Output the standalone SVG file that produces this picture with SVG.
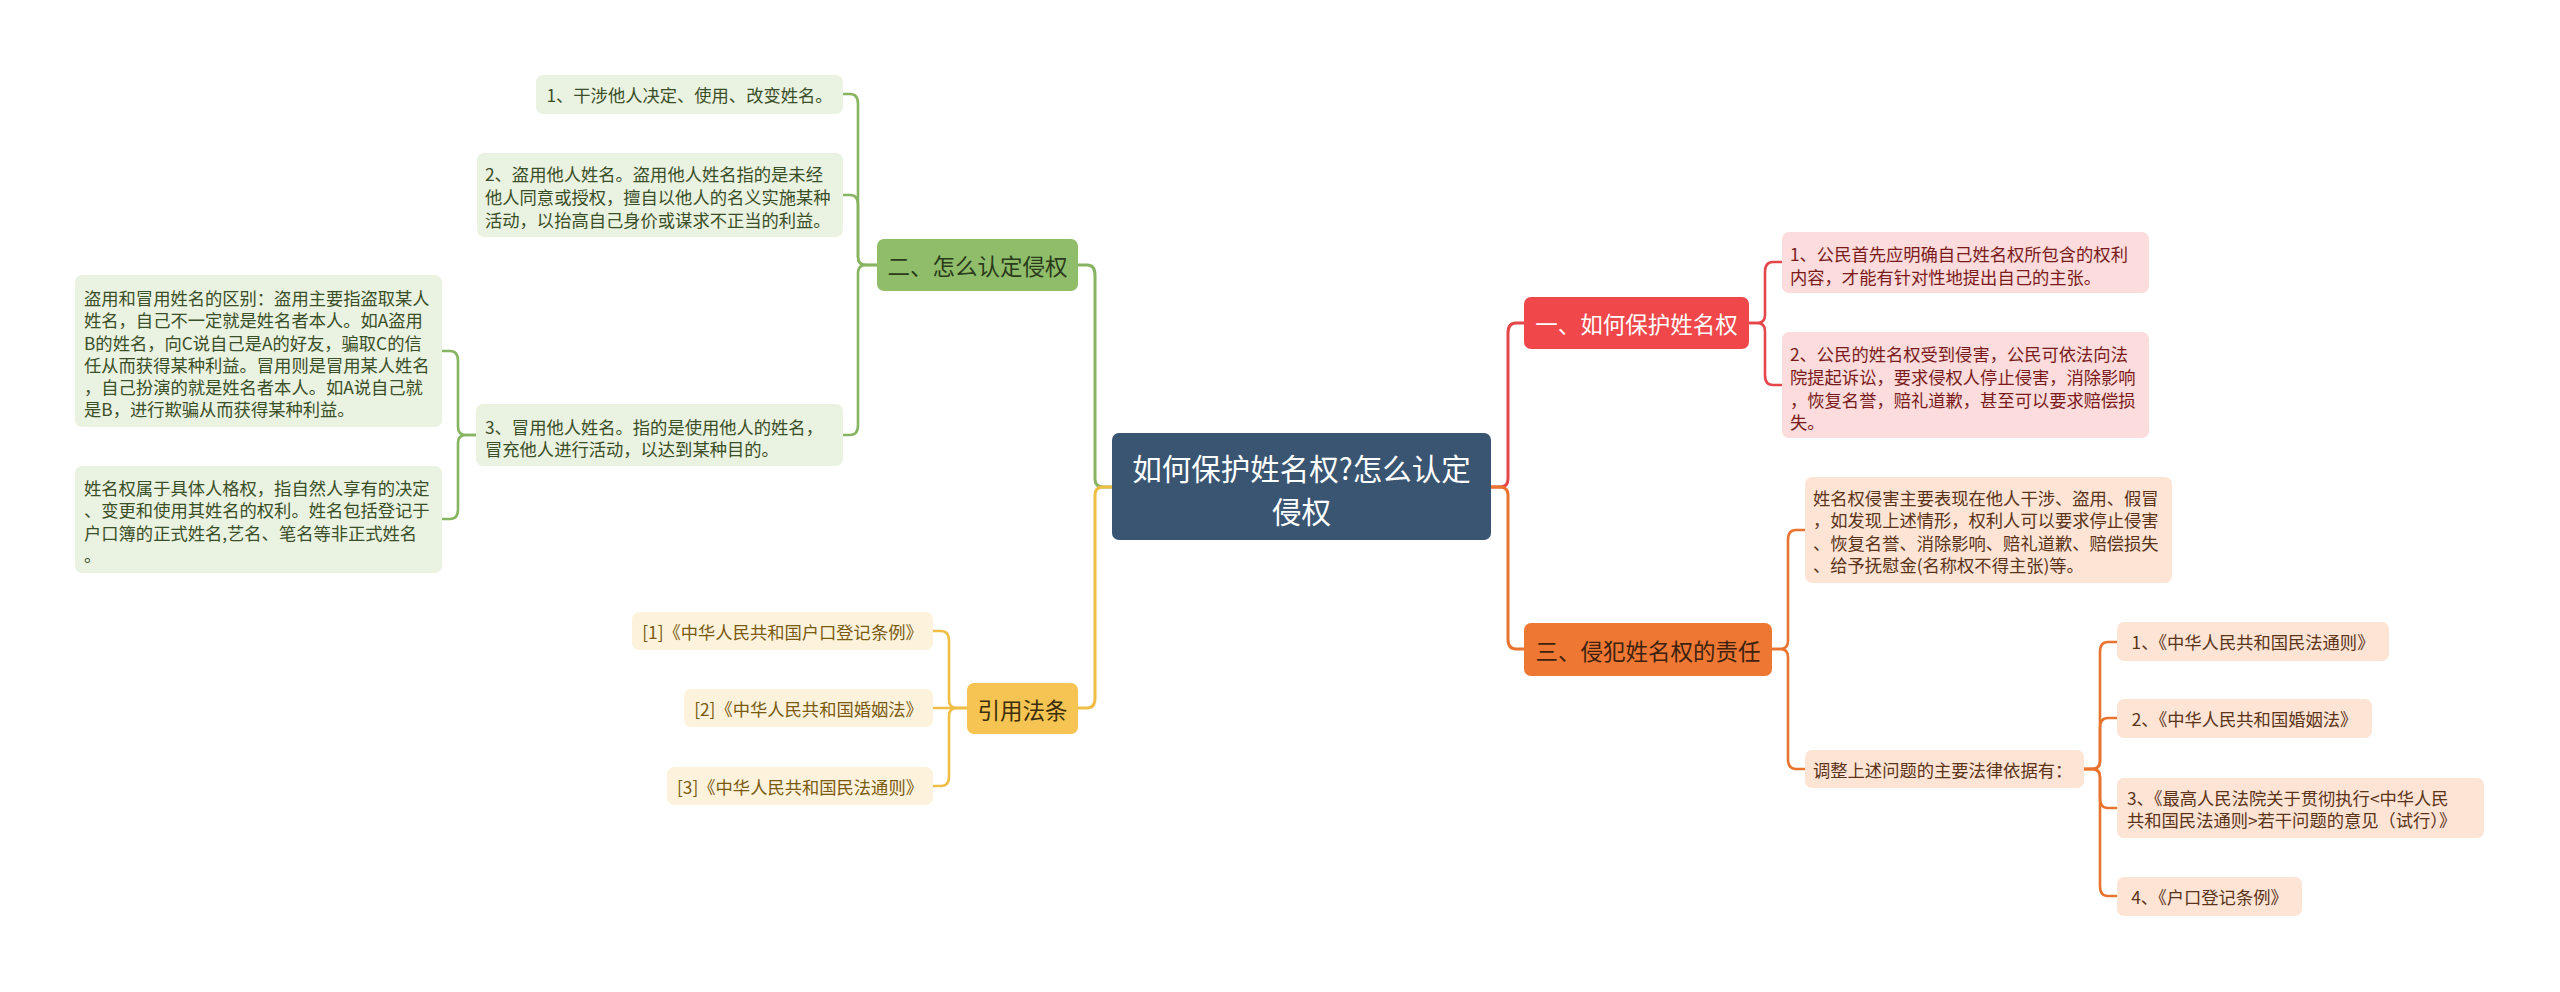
<svg xmlns="http://www.w3.org/2000/svg" width="2560" height="992" viewBox="0 0 2560 992">
<style>
text{font-family:"Noto Sans CJK SC","Noto Sans",sans-serif;dominant-baseline:central}
.c{text-anchor:middle}
.lf{font-size:17.3px}
.nd{font-size:22.5px}
.ln{fill:none;stroke-width:2.6;stroke-linecap:round;stroke-linejoin:round}
.tr{stroke-width:3}
.red{stroke:#e4464a}.org{stroke:#e8742f}.grn{stroke:#87b460}.ylw{stroke:#f0be47}
.rN{fill:#f0474b}.rL{fill:#fcdcdc}.rT{fill:#7a1b1b}
.oN{fill:#ee7833}.oL{fill:#fde4d5}.oT{fill:#5b3318}
.gN{fill:#8fbd6a}.gL{fill:#eaf2e2}.gT{fill:#3a4f27}
.yN{fill:#f5c452}.yL{fill:#fdf3dd}.yT{fill:#7a5a0f}
</style>
<rect width="2560" height="992" fill="#ffffff"/>
<g id="connectors">
<path class="ln tr red" d="M1491,487 H1500 Q1508,487 1508,479 V333 Q1508,323 1516,323 H1524"/>
<path class="ln tr org" d="M1491,487 H1500 Q1508,487 1508,495 V639 Q1508,649 1516,649 H1524"/>
<path class="ln tr grn" d="M1112,487 H1103 Q1095,487 1095,479 V275 Q1095,265 1087,265 H1078"/>
<path class="ln tr ylw" d="M1112,487 H1103 Q1095,487 1095,495 V698 Q1095,708 1087,708 H1078"/>
<path class="ln red" d="M1749,323 H1757 Q1765,323 1765,315 V272 Q1765,262 1773,262 H1782"/>
<path class="ln red" d="M1749,323 H1757 Q1765,323 1765,331 V375 Q1765,385 1773,385 H1782"/>
<path class="ln org" d="M1772,649 H1780 Q1788,649 1788,641 V540 Q1788,530 1796,530 H1805"/>
<path class="ln org" d="M1772,649 H1780 Q1788,649 1788,657 V759 Q1788,769 1796,769 H1805"/>
<path class="ln org" d="M2084,769 H2092 Q2100,769 2100,761 V652 Q2100,642 2108,642 H2117"/>
<path class="ln org" d="M2084,769 H2092 Q2100,769 2100,761 V728 Q2100,718 2108,718 H2117"/>
<path class="ln org" d="M2084,769 H2092 Q2100,769 2100,777 V798 Q2100,808 2108,808 H2117"/>
<path class="ln org" d="M2084,769 H2092 Q2100,769 2100,777 V886 Q2100,896 2108,896 H2117"/>
<path class="ln grn" d="M877,265 H866 Q858,265 858,257 V104 Q858,94 850,94 H843"/>
<path class="ln grn" d="M877,265 H866 Q858,265 858,257 V205 Q858,195 850,195 H843"/>
<path class="ln grn" d="M877,265 H866 Q858,265 858,273 V425 Q858,435 850,435 H843"/>
<path class="ln grn" d="M476,435 H466 Q458,435 458,427 V361 Q458,351 450,351 H442"/>
<path class="ln grn" d="M476,435 H466 Q458,435 458,443 V509 Q458,519 450,519 H442"/>
<path class="ln ylw" d="M967,708 H957 Q949,708 949,700 V641 Q949,631 941,631 H933"/>
<path class="ln ylw" d="M967,708 H933"/>
<path class="ln ylw" d="M967,708 H957 Q949,708 949,716 V776 Q949,786 941,786 H933"/>
</g>
<g id="root">
<rect x="1112" y="433" width="379" height="107" rx="7" fill="#3a5571"/>
<text class="c" x="1301.5" y="467" font-size="29.5" fill="#ffffff">如何保护姓名权?怎么认定</text>
<text class="c" x="1301.5" y="510" font-size="29.5" fill="#ffffff">侵权</text>
</g>
<g id="n1">
<rect class="rN" x="1524" y="297" width="225" height="52" rx="7"/>
<text class="c nd" x="1636.5" y="323" fill="#ffffff">一、如何保护姓名权</text>
</g>
<g id="n1a">
<rect class="rL" x="1782" y="232" width="367" height="61" rx="7"/>
<text class="lf rT" x="1790" y="253">1、公民首先应明确自己姓名权所包含的权利</text>
<text class="lf rT" x="1790" y="276">内容，才能有针对性地提出自己的主张。</text>
</g>
<g id="n1b">
<rect class="rL" x="1782" y="332" width="367" height="106" rx="7"/>
<text class="lf rT" x="1790" y="353">2、公民的姓名权受到侵害，公民可依法向法</text>
<text class="lf rT" x="1790" y="376">院提起诉讼，要求侵权人停止侵害，消除影响</text>
<text class="lf rT" x="1790" y="399">，恢复名誉，赔礼道歉，甚至可以要求赔偿损</text>
<text class="lf rT" x="1790" y="421">失。</text>
</g>
<g id="n3">
<rect class="oN" x="1524" y="623" width="248" height="53" rx="7"/>
<text class="c nd" x="1648" y="649.5" fill="#3d2210">三、侵犯姓名权的责任</text>
</g>
<g id="n3a">
<rect class="oL" x="1805" y="477" width="367" height="106" rx="7"/>
<text class="lf oT" x="1813" y="497">姓名权侵害主要表现在他人干涉、盗用、假冒</text>
<text class="lf oT" x="1813" y="519">，如发现上述情形，权利人可以要求停止侵害</text>
<text class="lf oT" x="1813" y="542">、恢复名誉、消除影响、赔礼道歉、赔偿损失</text>
<text class="lf oT" x="1813" y="564">、给予抚慰金(名称权不得主张)等。</text>
</g>
<g id="n3b">
<rect class="oL" x="1805" y="750" width="279" height="38" rx="7"/>
<text class="lf oT" x="1813" y="769">调整上述问题的主要法律依据有：</text>
</g>
<g id="n3b1">
<rect class="oL" x="2117" y="622" width="272" height="39" rx="7"/>
<text class="lf oT c" x="2253" y="641.5">1、《中华人民共和国民法通则》</text>
</g>
<g id="n3b2">
<rect class="oL" x="2117" y="699" width="255" height="39" rx="7"/>
<text class="lf oT c" x="2244.5" y="718.5">2、《中华人民共和国婚姻法》</text>
</g>
<g id="n3b3">
<rect class="oL" x="2117" y="778" width="367" height="60" rx="7"/>
<text class="lf oT" x="2127" y="797">3、《最高人民法院关于贯彻执行&lt;中华人民</text>
<text class="lf oT" x="2127" y="819">共和国民法通则&gt;若干问题的意见（试行）》</text>
</g>
<g id="n3b4">
<rect class="oL" x="2117" y="877" width="185" height="39" rx="7"/>
<text class="lf oT c" x="2209.5" y="896.5">4、《户口登记条例》</text>
</g>
<g id="n2">
<rect class="gN" x="877" y="239" width="201" height="52" rx="7"/>
<text class="c nd" x="977.5" y="265" fill="#2a3a1b">二、怎么认定侵权</text>
</g>
<g id="n2a">
<rect class="gL" x="536" y="75" width="307" height="39" rx="7"/>
<text class="lf gT c" x="689.5" y="94.5">1、干涉他人决定、使用、改变姓名。</text>
</g>
<g id="n2b">
<rect class="gL" x="477" y="153" width="366" height="84" rx="7"/>
<text class="lf gT" x="485" y="173">2、盗用他人姓名。盗用他人姓名指的是未经</text>
<text class="lf gT" x="485" y="196">他人同意或授权，擅自以他人的名义实施某种</text>
<text class="lf gT" x="485" y="219">活动，以抬高自己身价或谋求不正当的利益。</text>
</g>
<g id="n2c">
<rect class="gL" x="476" y="404" width="367" height="62" rx="7"/>
<text class="lf gT" x="485" y="426">3、冒用他人姓名。指的是使用他人的姓名，</text>
<text class="lf gT" x="485" y="448">冒充他人进行活动，以达到某种目的。</text>
</g>
<g id="n2c1">
<rect class="gL" x="75" y="275" width="367" height="152" rx="7"/>
<text class="lf gT" x="84" y="297">盗用和冒用姓名的区别：盗用主要指盗取某人</text>
<text class="lf gT" x="84" y="319">姓名，自己不一定就是姓名者本人。如A盗用</text>
<text class="lf gT" x="84" y="342">B的姓名，向C说自己是A的好友，骗取C的信</text>
<text class="lf gT" x="84" y="364">任从而获得某种利益。冒用则是冒用某人姓名</text>
<text class="lf gT" x="84" y="386">，自己扮演的就是姓名者本人。如A说自己就</text>
<text class="lf gT" x="84" y="408">是B，进行欺骗从而获得某种利益。</text>
</g>
<g id="n2c2">
<rect class="gL" x="75" y="466" width="367" height="107" rx="7"/>
<text class="lf gT" x="84" y="487">姓名权属于具体人格权，指自然人享有的决定</text>
<text class="lf gT" x="84" y="509">、变更和使用其姓名的权利。姓名包括登记于</text>
<text class="lf gT" x="84" y="532">户口簿的正式姓名,艺名、笔名等非正式姓名</text>
<text class="lf gT" x="84" y="554">。</text>
</g>
<g id="n4">
<rect class="yN" x="967" y="683" width="111" height="51" rx="7"/>
<text class="c nd" x="1022.5" y="708.5" fill="#3b2d0c">引用法条</text>
</g>
<g id="n4a">
<rect class="yL" x="632" y="612" width="301" height="38" rx="7"/>
<text class="lf yT c" x="782.5" y="631">[1]《中华人民共和国户口登记条例》</text>
</g>
<g id="n4b">
<rect class="yL" x="684" y="689" width="249" height="38" rx="7"/>
<text class="lf yT c" x="808.5" y="708">[2]《中华人民共和国婚姻法》</text>
</g>
<g id="n4c">
<rect class="yL" x="667" y="767" width="266" height="38" rx="7"/>
<text class="lf yT c" x="800" y="786">[3]《中华人民共和国民法通则》</text>
</g>
</svg>
